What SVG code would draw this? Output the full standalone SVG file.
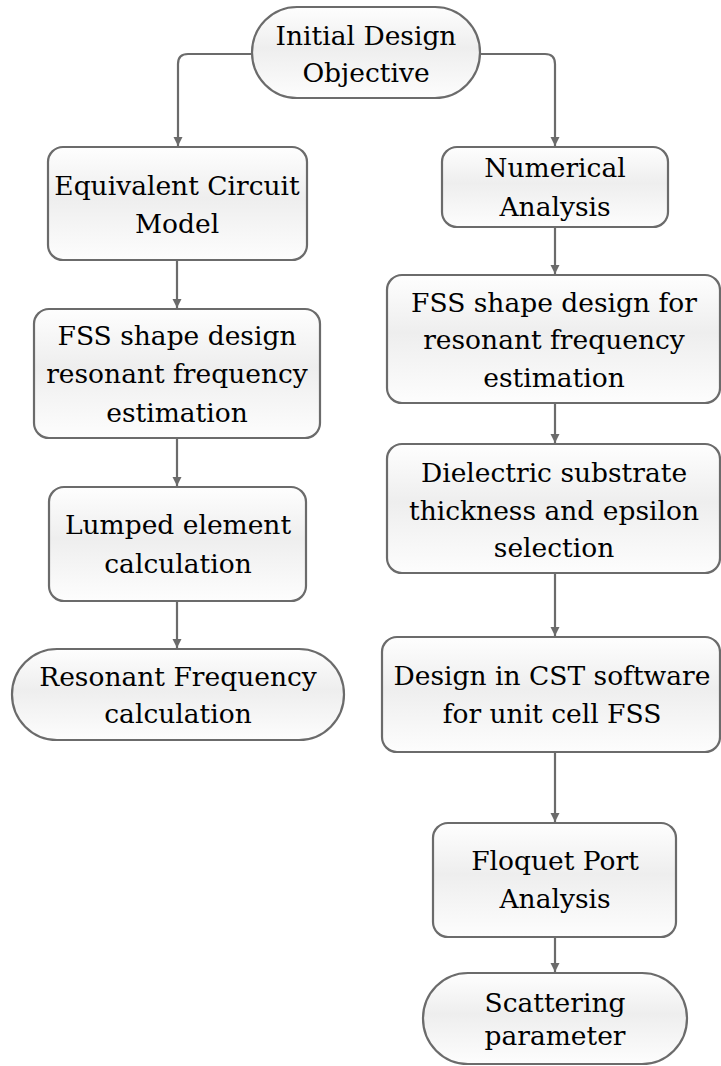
<svg xmlns="http://www.w3.org/2000/svg" width="721" height="1066" viewBox="0 0 721 1066">
  <defs>
    <linearGradient id="boxFill" x1="0" y1="0" x2="0" y2="1">
      <stop offset="0" stop-color="#fefefe"/>
      <stop offset="0.45" stop-color="#eeeeee"/>
      <stop offset="1" stop-color="#fdfdfd"/>
    </linearGradient>
    <marker id="arrow" viewBox="0 0 10 10" markerUnits="userSpaceOnUse" markerWidth="9" markerHeight="10" refX="10" refY="5" orient="auto">
      <path d="M0,0 L10,5 L0,10 z" fill="#6b6b6b"/>
    </marker>
    <style>
      .box { fill: url(#boxFill); stroke: #6b6b6b; stroke-width: 2.2; }
      .edge { fill: none; stroke: #6b6b6b; stroke-width: 2.2; marker-end: url(#arrow); }
      .lbl { font-family: "DejaVu Serif", "Liberation Serif", serif; font-size: 26.5px; fill: #000; text-anchor: middle; }
    </style>
  </defs>

  <!-- connectors -->
  <g id="connectors">
    <path class="edge" d="M252,54 H188 Q178,54 178,64 V146"/>
    <path class="edge" d="M480,54 H545 Q555,54 555,64 V146"/>
    <path class="edge" d="M177,260 V308"/>
    <path class="edge" d="M177,438 V486"/>
    <path class="edge" d="M177,601 V648"/>
    <path class="edge" d="M555,227 V274"/>
    <path class="edge" d="M555,403 V443"/>
    <path class="edge" d="M555,573 V636"/>
    <path class="edge" d="M555,752 V822"/>
    <path class="edge" d="M555,937 V972"/>
  </g>

  <!-- start terminator -->
  <g id="initial-design-objective">
    <rect class="box" x="252" y="7" width="228" height="91" rx="45" ry="45.5"/>
    <text class="lbl"><tspan x="366" y="45">Initial Design</tspan><tspan x="366" y="82">Objective</tspan></text>
  </g>

  <!-- left branch -->
  <g id="equivalent-circuit-model">
    <rect class="box" x="48" y="147" width="259" height="113" rx="15"/>
    <text class="lbl"><tspan x="177" y="195">Equivalent Circuit</tspan><tspan x="177" y="233">Model</tspan></text>
  </g>
  <g id="fss-shape-design-left">
    <rect class="box" x="34" y="309" width="286" height="129" rx="15"/>
    <text class="lbl"><tspan x="177" y="345">FSS shape design</tspan><tspan x="177" y="383">resonant frequency</tspan><tspan x="177" y="422">estimation</tspan></text>
  </g>
  <g id="lumped-element-calculation">
    <rect class="box" x="49" y="487" width="257" height="114" rx="15"/>
    <text class="lbl"><tspan x="178" y="534">Lumped element</tspan><tspan x="178" y="573">calculation</tspan></text>
  </g>
  <g id="resonant-frequency-calculation">
    <rect class="box" x="12" y="649" width="332" height="91" rx="45" ry="45.5"/>
    <text class="lbl"><tspan x="178" y="686">Resonant Frequency</tspan><tspan x="178" y="723">calculation</tspan></text>
  </g>

  <!-- right branch -->
  <g id="numerical-analysis">
    <rect class="box" x="442" y="147" width="226" height="80" rx="15"/>
    <text class="lbl"><tspan x="555" y="177">Numerical</tspan><tspan x="555" y="216">Analysis</tspan></text>
  </g>
  <g id="fss-shape-design-right">
    <rect class="box" x="387" y="275" width="333" height="128" rx="15"/>
    <text class="lbl"><tspan x="554" y="312">FSS shape design for</tspan><tspan x="554" y="349">resonant frequency</tspan><tspan x="554" y="387">estimation</tspan></text>
  </g>
  <g id="dielectric-substrate">
    <rect class="box" x="387" y="444" width="333" height="129" rx="15"/>
    <text class="lbl"><tspan x="554" y="482">Dielectric substrate</tspan><tspan x="554" y="520">thickness and epsilon</tspan><tspan x="554" y="557">selection</tspan></text>
  </g>
  <g id="design-in-cst">
    <rect class="box" x="382" y="637" width="338" height="115" rx="15"/>
    <text class="lbl"><tspan x="552" y="685">Design in CST software</tspan><tspan x="552" y="723">for unit cell FSS</tspan></text>
  </g>
  <g id="floquet-port-analysis">
    <rect class="box" x="433" y="823" width="243" height="114" rx="15"/>
    <text class="lbl"><tspan x="555" y="870">Floquet Port</tspan><tspan x="555" y="908">Analysis</tspan></text>
  </g>
  <g id="scattering-parameter">
    <rect class="box" x="423" y="973" width="264" height="91" rx="45" ry="45.5"/>
    <text class="lbl"><tspan x="555" y="1012">Scattering</tspan><tspan x="555" y="1045">parameter</tspan></text>
  </g>
</svg>
